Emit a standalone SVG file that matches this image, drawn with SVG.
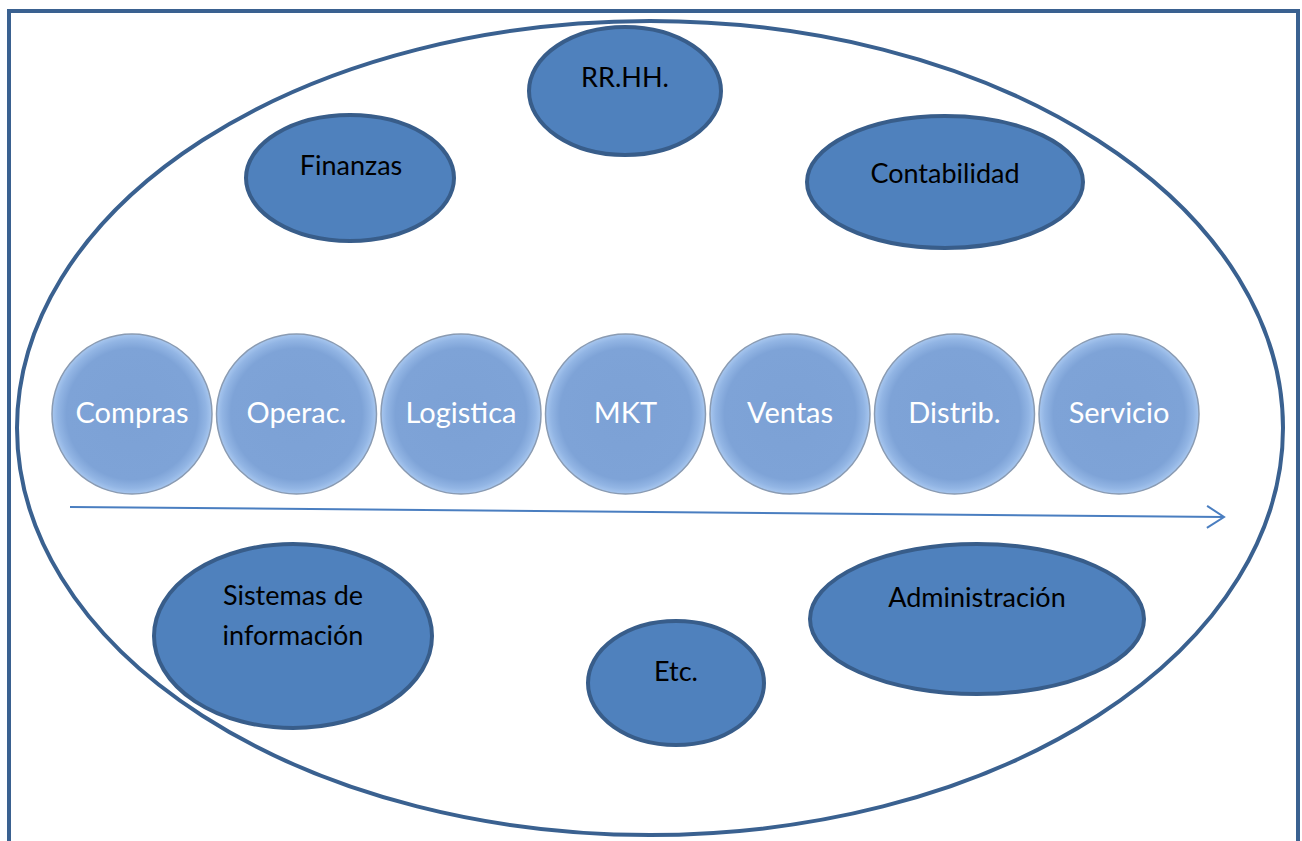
<svg xmlns="http://www.w3.org/2000/svg" width="1302" height="841" viewBox="0 0 1302 841">
  <defs>
    <style>
      .frame { fill: none; stroke: #3A6190; stroke-width: 4; }
      .oval { fill: #4F81BD; stroke: #385D8A; stroke-width: 4; }
      .lbl { font-family: Lato, "Open Sans", sans-serif; font-size: 27px; fill: #000; text-anchor: middle; }
      .step { fill: url(#bevel); stroke: #8A9BB2; stroke-width: 1.5; }
      .stepLbl { font-family: Lato, "Open Sans", sans-serif; font-size: 29px; fill: #fff; text-anchor: middle; }
      .flow { fill: none; stroke: #4A7EC0; stroke-width: 2; }
    </style>
    <radialGradient id="bevel" cx="0.5" cy="0.5" r="0.5">
      <stop offset="0" stop-color="#7CA1D5"/>
      <stop offset="0.82" stop-color="#7EA3D7"/>
      <stop offset="0.93" stop-color="#92B5E4"/>
      <stop offset="1" stop-color="#A8C7EF"/>
    </radialGradient>
    <marker id="chevron" viewBox="0 0 20 24" refX="18" refY="12" markerWidth="20" markerHeight="24" markerUnits="userSpaceOnUse" orient="auto">
      <path d="M1,1 L18,12 L1,23" fill="none" stroke="#4A7EC0" stroke-width="2"/>
    </marker>
  </defs>

  <!-- outer frame and enclosing organisation oval -->
  <rect class="frame" x="9" y="11" width="1289" height="850"/>
  <ellipse class="frame" cx="650" cy="428" rx="633" ry="407"/>

  <!-- support functions -->
  <g id="rrhh">
    <ellipse class="oval" cx="625" cy="91" rx="96" ry="64"/>
    <text class="lbl" x="625" y="87">RR.HH.</text>
  </g>
  <g id="finanzas">
    <ellipse class="oval" cx="350" cy="178" rx="104" ry="63"/>
    <text class="lbl" x="351" y="175">Finanzas</text>
  </g>
  <g id="contabilidad">
    <ellipse class="oval" cx="945" cy="182" rx="138" ry="66"/>
    <text class="lbl" x="945" y="183">Contabilidad</text>
  </g>
  <g id="sistemas">
    <ellipse class="oval" cx="293" cy="636" rx="139" ry="92"/>
    <text class="lbl" x="293" y="605">Sistemas de</text>
    <text class="lbl" x="293" y="645">información</text>
  </g>
  <g id="etc">
    <ellipse class="oval" cx="676" cy="683" rx="88" ry="62"/>
    <text class="lbl" x="676" y="681">Etc.</text>
  </g>
  <g id="administracion">
    <ellipse class="oval" cx="977" cy="619" rx="167" ry="75"/>
    <text class="lbl" x="977" y="607">Administración</text>
  </g>

  <!-- value chain steps -->
  <g id="compras">
    <circle class="step" cx="132" cy="414" r="80"/>
    <text class="stepLbl" x="132" y="423">Compras</text>
  </g>
  <g id="operac">
    <circle class="step" cx="296.5" cy="414" r="80"/>
    <text class="stepLbl" x="296.5" y="423">Operac.</text>
  </g>
  <g id="logistica">
    <circle class="step" cx="461" cy="414" r="80"/>
    <text class="stepLbl" x="461" y="423">Logistica</text>
  </g>
  <g id="mkt">
    <circle class="step" cx="625.5" cy="414" r="80"/>
    <text class="stepLbl" x="625.5" y="423">MKT</text>
  </g>
  <g id="ventas">
    <circle class="step" cx="790" cy="414" r="80"/>
    <text class="stepLbl" x="790" y="423">Ventas</text>
  </g>
  <g id="distrib">
    <circle class="step" cx="954.5" cy="414" r="80"/>
    <text class="stepLbl" x="954.5" y="423">Distrib.</text>
  </g>
  <g id="servicio">
    <circle class="step" cx="1119" cy="414" r="80"/>
    <text class="stepLbl" x="1119" y="423">Servicio</text>
  </g>

  <!-- flow direction -->
  <g id="connectors">
    <line class="flow" x1="70" y1="507" x2="1224" y2="517" marker-end="url(#chevron)"/>
  </g>
</svg>
